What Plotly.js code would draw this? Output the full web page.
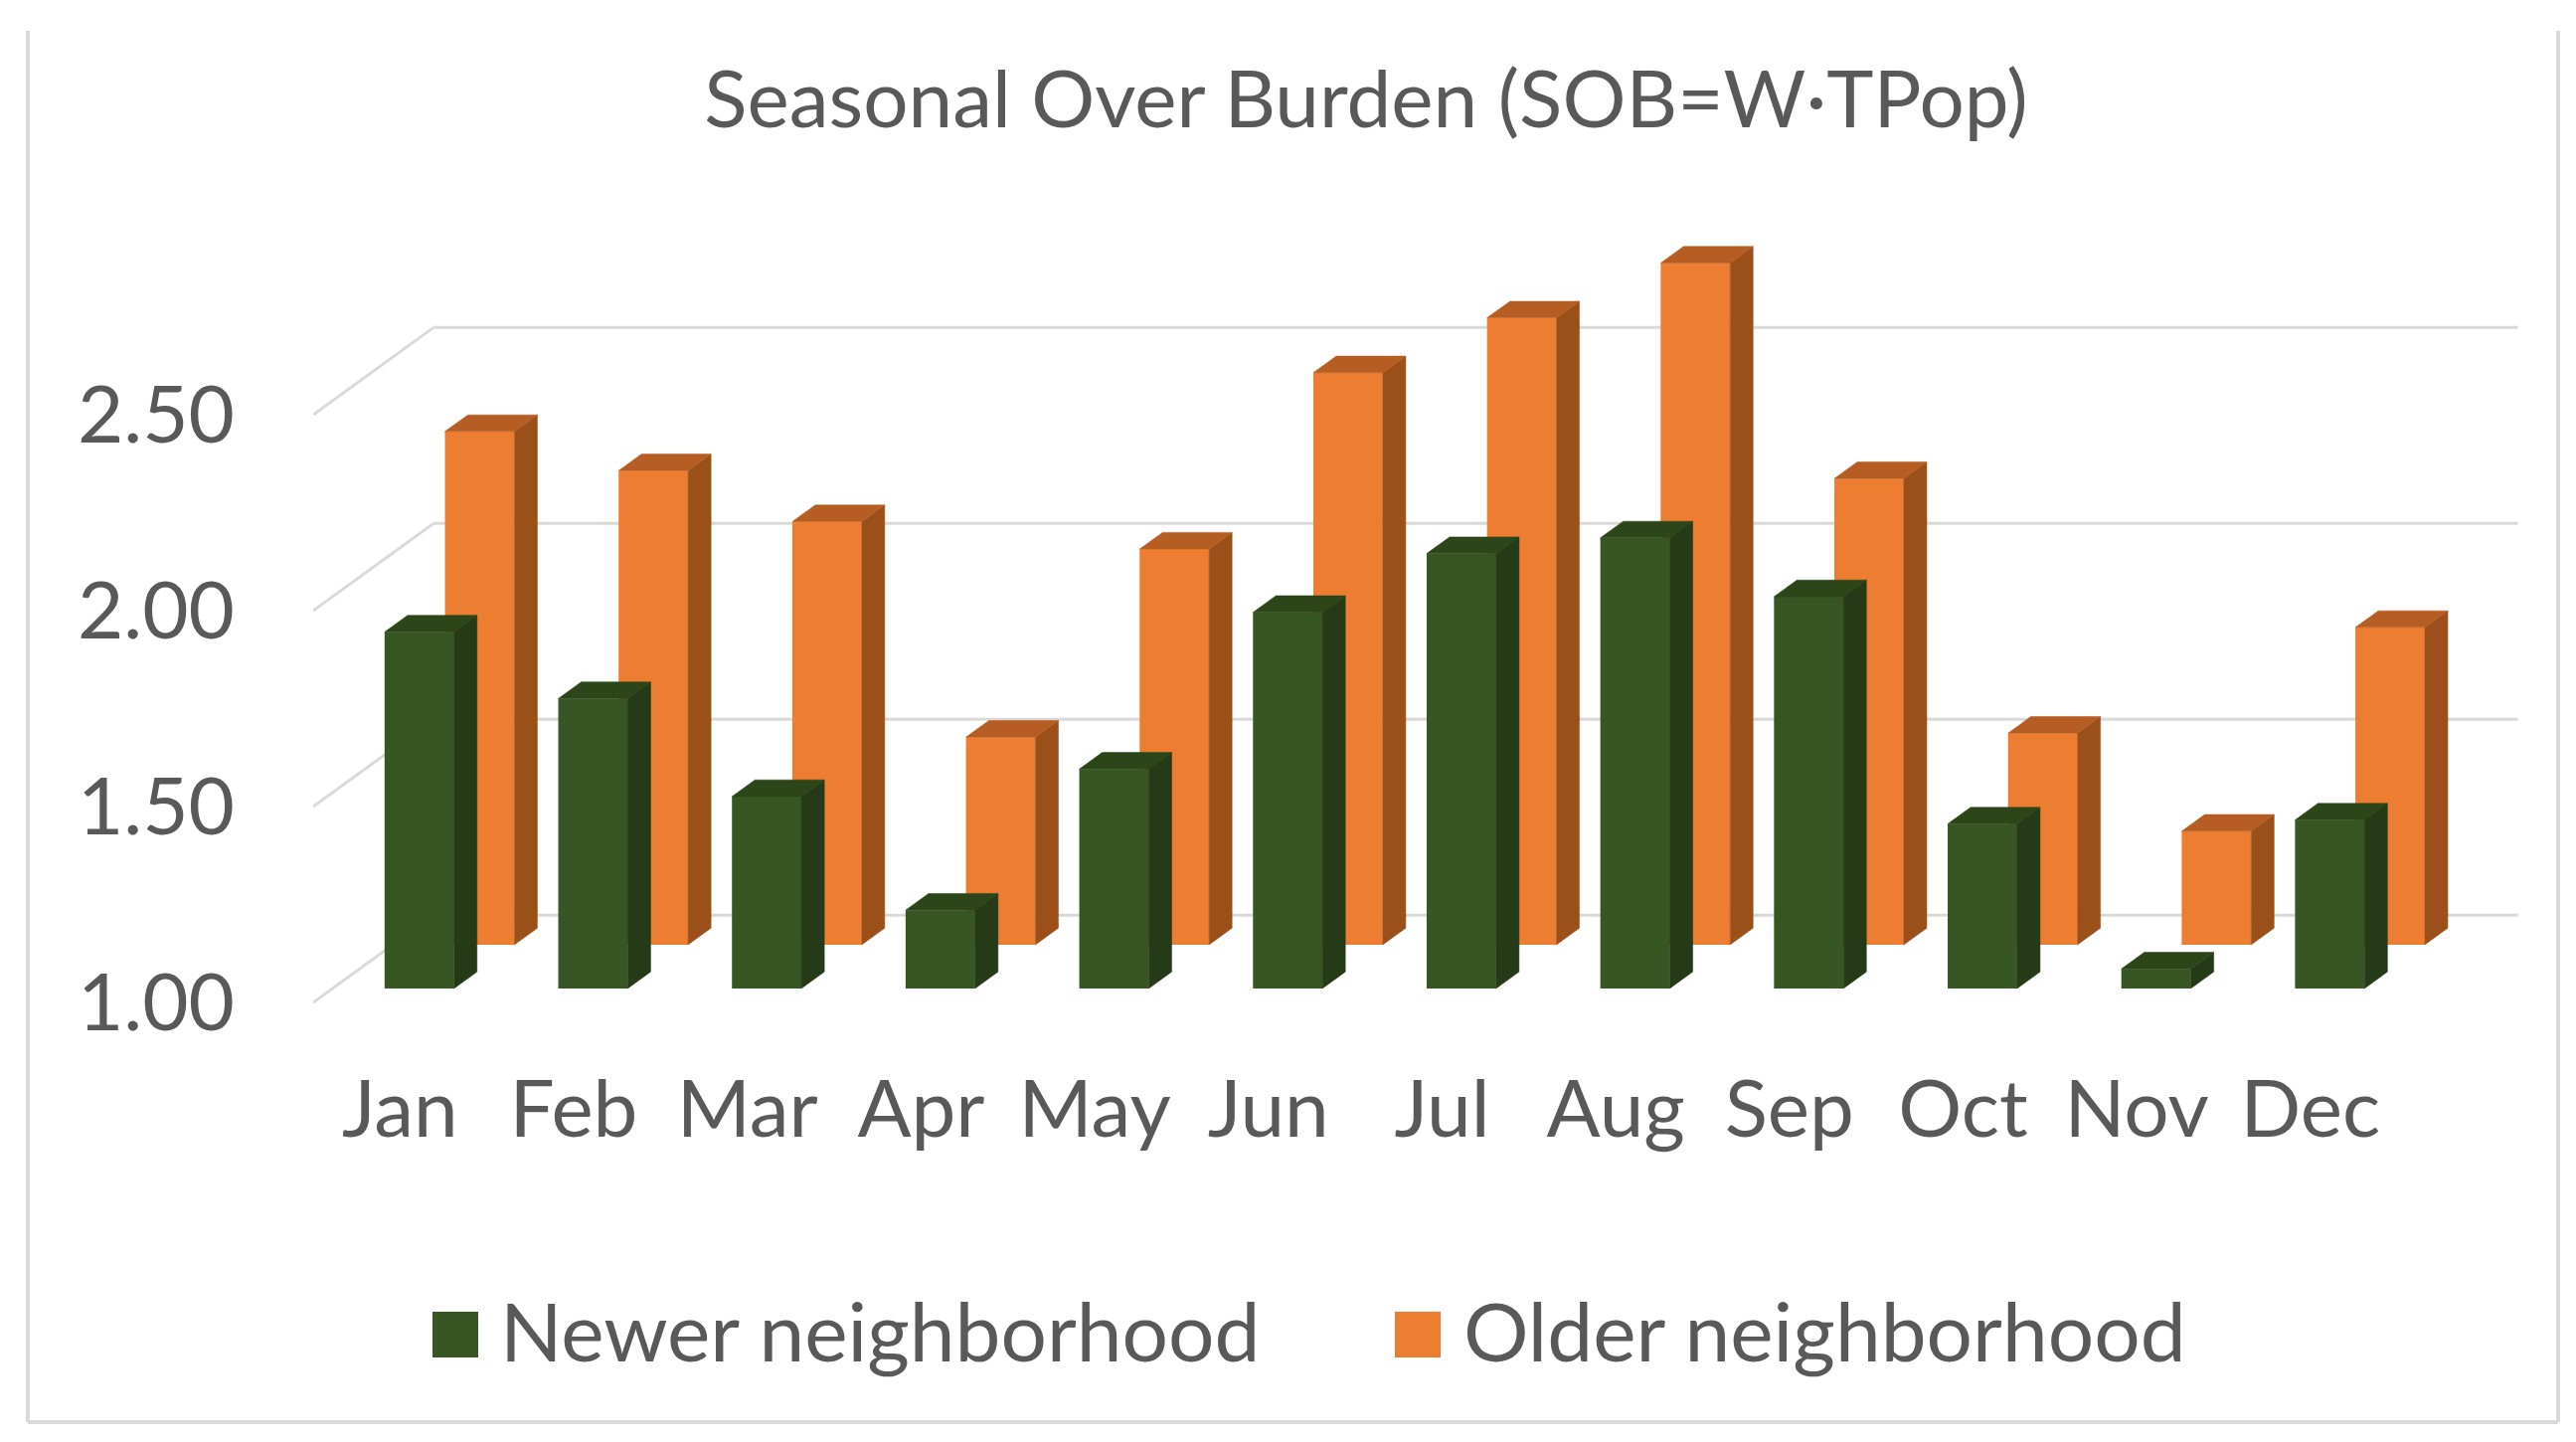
<!DOCTYPE html>
<html>
<head>
<meta charset="utf-8">
<script src="https://cdn.plot.ly/plotly-3.0.1.min.js"></script>
<style>
  html, body { margin: 0; padding: 0; background: #fff; }
  #chart { width: 2591px; height: 1450px; }
</style>
</head>
<body>
<div id="chart"></div>
<script>
// data
const months = ['Jan', 'Feb', 'Mar', 'Apr', 'May', 'Jun', 'Jul', 'Aug', 'Sep', 'Oct', 'Nov', 'Dec'];
const newer = [1.91, 1.74, 1.49, 1.20, 1.56, 1.96, 2.11, 2.15, 2.00, 1.42, 1.05, 1.43];
const older = [2.31, 2.21, 2.08, 1.53, 2.01, 2.46, 2.60, 2.74, 2.19, 1.54, 1.29, 1.81];
const yTicks = [1, 1.5, 2, 2.5];
const yTickText = ['1.00', '1.50', '2.00', '2.50'];
const seriesNames = ['Newer neighborhood', 'Older neighborhood'];

// fake 3D: oblique projection, depth 0 = front, 1 = back wall
const DX = 0.695;   // x shift per unit depth (category units)
const DY = 0.223;   // y shift per unit depth (value units)
const BW = 0.40;    // bar front width
const T = 0.19;     // bar depth
const FLOOR = 1;
const WALL_L = -0.5, WALL_R = 11.5;

const W = 2591, H = 1450;
const M = { l: 315, r: 40, t: 220, b: 400 };
const xRange = [-0.5, 12.3];
const yRange = [0.8934, 3.0];

const FONT = 'Lato, "Open Sans", sans-serif';
const GREY = '#595959';
const FS = 80;

function faces(values, depth, sideColor, topColor, name) {
  const sx = [], sy = [], tx = [], ty = [];
  values.forEach((v, i) => {
    const xl = i + depth * DX - BW / 2;
    const xr = xl + BW;
    const b0 = FLOOR + depth * DY;
    const top = v + depth * DY;
    sx.push(xr, xr + T * DX, xr + T * DX, xr, xr, null);
    sy.push(b0, b0 + T * DY, top + T * DY, top, b0, null);
    tx.push(xl, xl + T * DX, xr + T * DX, xr, xl, null);
    ty.push(top, top + T * DY, top + T * DY, top, top, null);
  });
  const base = { type: 'scatter', mode: 'lines', fill: 'toself', showlegend: false, hoverinfo: 'skip' };
  return [
    Object.assign({}, base, { x: sx, y: sy, fillcolor: sideColor, line: { color: sideColor, width: 0.5 }, name: name + ' side' }),
    Object.assign({}, base, { x: tx, y: ty, fillcolor: topColor, line: { color: topColor, width: 0.5 }, name: name + ' top' })
  ];
}

function front(values, depth, color, name) {
  return {
    type: 'bar',
    name: name,
    x: values.map((v, i) => i + depth * DX),
    y: values.map(v => v - FLOOR),
    base: FLOOR + depth * DY,
    width: BW,
    marker: { color: color, line: { width: 0 } },
    showlegend: false
  };
}

const depthGreen = 0.16, depthOrange = 0.66;

const data = [
  front(older, depthOrange, '#ED7D31', seriesNames[1]),
  front(newer, depthGreen, '#375623', seriesNames[0]),
  ...faces(older, depthOrange, '#9C5019', '#B55D22', seriesNames[1]),
  ...faces(newer, depthGreen, '#253B17', '#2D4619', seriesNames[0])
];

// back wall and side wall grid lines
const shapes = [];
const gridLine = { color: '#D9D9D9', width: 3 };
yTicks.forEach(v => {
  shapes.push({ type: 'line', xref: 'x', yref: 'y', layer: 'below', x0: WALL_L, y0: v, x1: WALL_L + DX, y1: v + DY, line: gridLine });
  shapes.push({ type: 'line', xref: 'x', yref: 'y', layer: 'below', x0: WALL_L + DX, y0: v + DY, x1: WALL_R + DX, y1: v + DY, line: gridLine });
});

// helpers for pixel -> paper coords
const pw = W - M.l - M.r, ph = H - M.t - M.b;
const px = x => (x - M.l) / pw;
const py = y => 1 - (y - M.t) / ph;

// chart border (left, right, bottom)
const border = { color: '#D9D9D9', width: 4 };
shapes.push({ type: 'line', xref: 'paper', yref: 'paper', x0: px(28), y0: py(31), x1: px(28), y1: py(1430), line: border });
shapes.push({ type: 'line', xref: 'paper', yref: 'paper', x0: px(2573), y0: py(31), x1: px(2573), y1: py(1430), line: border });
shapes.push({ type: 'line', xref: 'paper', yref: 'paper', x0: px(28), y0: py(1430), x1: px(2573), y1: py(1430), line: border });

// legend drawn by hand so the swatches keep Excel's size
const legendItems = [
  { name: seriesNames[0], color: '#375623', sq: 435, tx: 501 },
  { name: seriesNames[1], color: '#ED7D31', sq: 1403, tx: 1470 }
];
const annotations = [];
legendItems.forEach(it => {
  shapes.push({ type: 'rect', xref: 'paper', yref: 'paper', x0: px(it.sq), x1: px(it.sq + 46), y0: py(1365), y1: py(1319), fillcolor: it.color, line: { width: 0 } });
  annotations.push({ xref: 'paper', yref: 'paper', x: px(it.tx), y: py(1337), xanchor: 'left', yanchor: 'middle', showarrow: false, text: it.name, font: { family: FONT, size: 82, color: GREY } });
});

const layout = {
  width: W, height: H,
  margin: M,
  paper_bgcolor: '#fff',
  plot_bgcolor: 'rgba(0,0,0,0)',
  barmode: 'overlay',
  showlegend: false,
  font: { family: FONT, color: GREY, size: FS },
  title: {
    text: 'Seasonal Over Burden (SOB=W·TPop)',
    font: { family: FONT, size: FS, color: GREY },
    xref: 'container', yref: 'container',
    x: 1374 / W, xanchor: 'center',
    y: 1 - 100 / H, yanchor: 'middle'
  },
  xaxis: {
    range: xRange,
    tickmode: 'array',
    tickvals: months.map((m, i) => i),
    ticktext: months,
    showgrid: false, zeroline: false, showline: false, ticks: '',
    ticklabelstandoff: 12,
    tickfont: { family: FONT, size: FS, color: GREY }
  },
  yaxis: {
    range: yRange,
    tickmode: 'array',
    tickvals: yTicks,
    ticktext: yTickText,
    showgrid: false, zeroline: false, showline: false, ticks: '',
    ticklabelstandoff: 78,
    tickfont: { family: FONT, size: FS, color: GREY }
  },
  shapes: shapes,
  annotations: annotations
};

Plotly.newPlot('chart', data, layout, { displayModeBar: false, staticPlot: true });
</script>
</body>
</html>
